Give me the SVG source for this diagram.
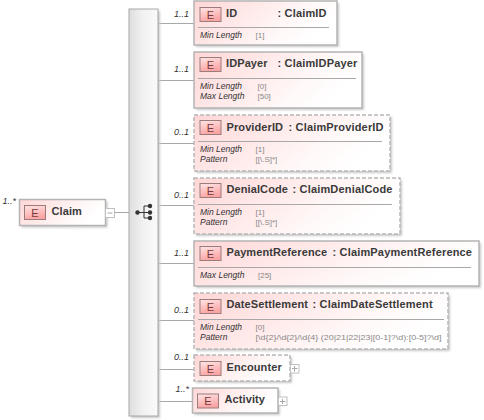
<svg xmlns="http://www.w3.org/2000/svg" width="484" height="420" viewBox="0 0 484 420">
<style>
text{font-family:"Liberation Sans",Arial,sans-serif}
.n{font-size:11px;font-weight:bold;fill:#3a3a3a;letter-spacing:.1px}
.t{font-size:11px;font-weight:bold;fill:#3a3a3a;letter-spacing:.17px}
.e{font-size:11px;fill:#7a3a3a;text-anchor:middle}
.o{font-size:9px;font-style:italic;fill:#333;text-anchor:end}
.k{font-size:8.500px;font-style:italic;fill:#333}
.v{font-size:8px;fill:#888}
.box{fill:url(#bg);stroke:#b4b4b4;stroke-width:1.500}
.opt{fill:url(#bg);stroke:#b8b8b8;stroke-width:1.500;stroke-dasharray:4 2}
.sh{fill:#c8c8c8;filter:url(#soft)}
.bd{fill:url(#eg);stroke:#9a7c7c;stroke-width:1}
.ln{stroke:#a8a8a8;stroke-width:1;fill:none}
.sep{stroke:#a8a8a8;stroke-width:1}
.pm{fill:#fff;stroke:#c0c0c0;stroke-width:1}
</style>
<defs>
<filter id="soft" x="-10%" y="-10%" width="120%" height="120%"><feGaussianBlur stdDeviation="0.800"/></filter>
<linearGradient id="bg" x1="0" y1="0" x2="1" y2="0.350"><stop offset="0" stop-color="#ffd6d6"/><stop offset="0.750" stop-color="#fff8f8"/><stop offset="1" stop-color="#ffffff"/></linearGradient>
<linearGradient id="eg" x1="0" y1="0" x2="0.300" y2="1"><stop offset="0" stop-color="#ffe6e6"/><stop offset="1" stop-color="#fba4a4"/></linearGradient>
<linearGradient id="bar" x1="0" y1="0" x2="1" y2="0"><stop offset="0" stop-color="#dedede"/><stop offset="0.500" stop-color="#f2f2f2"/><stop offset="1" stop-color="#fafafa"/></linearGradient>
</defs>

<g id="connectors">
<path class="ln" d="M115 212.500H129M158 23.500H194M158 80.500H194M158 143.500H194M158 205.500H194M158 263.500H194M158 320.500H194M158 369.500H194M158 401.500H193"/>
</g>

<g id="sequence">
<rect x="131" y="11" width="29" height="407" class="sh"/>
<rect x="129" y="9" width="29" height="407" fill="url(#bar)" stroke="#a8a8a8"/>
<path d="M137 212.500H144M144 206V218M144 206H150M144 212.500H150M144 218H150" fill="none" stroke="#333" stroke-width="1"/>
<circle cx="137.500" cy="212.500" r="2.200" fill="#333"/>
<circle cx="150" cy="206" r="2.200" fill="#333"/>
<circle cx="150" cy="212.500" r="2.200" fill="#333"/>
<circle cx="150" cy="218" r="2.200" fill="#333"/>
</g>

<g id="node-claim">
<rect x="21.500" y="201.500" width="86" height="26" class="sh"/>
<rect x="19.500" y="199.500" width="86" height="26" class="box"/>
<rect x="24.500" y="205.500" width="21" height="14" class="bd"/>
<text x="35" y="217" class="e">E</text>
<text x="51.500" y="215" class="n">Claim</text>
<text x="16" y="204" class="o">1..*</text>
<rect x="105.500" y="208.500" width="9" height="9" class="pm"/>
<path class="ln" d="M107.500 213H112.500"/>
</g>

<g id="node-id">
<rect x="196" y="3" width="143" height="44" class="sh"/>
<rect x="194" y="1" width="143" height="44" class="box"/>
<rect x="200" y="7.500" width="21" height="14" class="bd"/>
<text x="210.500" y="19" class="e">E</text>
<text x="226" y="17" class="n">ID</text>
<text x="277.500" y="17" class="t">: ClaimID</text>
<path class="sep" d="M198 27.500H329"/>
<text x="200" y="38" class="k">Min Length</text><text x="255.500" y="38" class="v">[1]</text>
<text x="189" y="17" class="o">1..1</text>
</g>

<g id="node-idpayer">
<rect x="196" y="54" width="168" height="56" class="sh"/>
<rect x="194" y="52" width="168" height="56" class="box"/>
<rect x="200" y="57.500" width="21" height="14" class="bd"/>
<text x="210.500" y="69" class="e">E</text>
<text x="226" y="67" class="n">IDPayer</text>
<text x="277.500" y="67" class="t">: ClaimIDPayer</text>
<path class="sep" d="M198 78.500H356"/>
<text x="200" y="89" class="k">Min Length</text><text x="257.500" y="89" class="v">[0]</text>
<text x="200" y="99" class="k">Max Length</text><text x="257.500" y="99" class="v">[50]</text>
<text x="189" y="72" class="o">1..1</text>
</g>

<g id="node-providerid">
<rect x="196" y="117" width="196" height="56" class="sh"/>
<rect x="194" y="115" width="196" height="56" class="opt"/>
<rect x="200" y="120.500" width="21" height="14" class="bd"/>
<text x="210.500" y="132" class="e">E</text>
<text x="226.500" y="131" class="n">ProviderID</text>
<text x="288.500" y="131" class="t">: ClaimProviderID</text>
<path class="sep" d="M198 141.500H382"/>
<text x="200" y="152" class="k">Min Length</text><text x="255.500" y="152" class="v">[1]</text>
<text x="200" y="162" class="k">Pattern</text><text x="255.500" y="162" class="v">[[\.S]*]</text>
<text x="189" y="135" class="o">0..1</text>
</g>

<g id="node-denialcode">
<rect x="196" y="180" width="206" height="56" class="sh"/>
<rect x="194" y="178" width="206" height="56" class="opt"/>
<rect x="200" y="183.500" width="21" height="14" class="bd"/>
<text x="210.500" y="195" class="e">E</text>
<text x="226.500" y="193" class="n">DenialCode</text>
<text x="292.500" y="193" class="t">: ClaimDenialCode</text>
<path class="sep" d="M198 204.500H392"/>
<text x="200" y="215" class="k">Min Length</text><text x="255.500" y="215" class="v">[1]</text>
<text x="200" y="225" class="k">Pattern</text><text x="255.500" y="225" class="v">[[\.S]*]</text>
<text x="189" y="198" class="o">0..1</text>
</g>

<g id="node-paymentreference">
<rect x="196" y="243" width="285" height="45" class="sh"/>
<rect x="194" y="241" width="285" height="45" class="box"/>
<rect x="200" y="246.500" width="21" height="14" class="bd"/>
<text x="210.500" y="258" class="e">E</text>
<text x="226.500" y="256" class="n">PaymentReference</text>
<text x="332.500" y="256" class="t">: ClaimPaymentReference</text>
<path class="sep" d="M198 267.500H471"/>
<text x="200" y="278" class="k">Max Length</text><text x="258" y="278" class="v">[25]</text>
<text x="189" y="256" class="o">1..1</text>
</g>

<g id="node-datesettlement">
<rect x="196" y="295" width="254" height="56" class="sh"/>
<rect x="194" y="293" width="254" height="56" class="opt"/>
<rect x="200" y="299.500" width="21" height="14" class="bd"/>
<text x="210.500" y="311" class="e">E</text>
<text x="226.500" y="308" class="n">DateSettlement</text>
<text x="312.500" y="308" class="t">: ClaimDateSettlement</text>
<path class="sep" d="M198 319.500H444"/>
<text x="200" y="330" class="k">Min Length</text><text x="255.500" y="330" class="v">[0]</text>
<text x="200" y="340" class="k">Pattern</text><text x="255.500" y="340" class="v" textLength="186" lengthAdjust="spacingAndGlyphs">[\d{2}/\d{2}/\d{4} (20|21|22|23|[0-1]?\d):[0-5]?\d]</text>
<text x="189" y="313" class="o">0..1</text>
</g>

<g id="node-encounter">
<rect x="196" y="357" width="96" height="26" class="sh"/>
<rect x="194" y="355" width="96" height="26" class="opt"/>
<rect x="200" y="361.500" width="21" height="14" class="bd"/>
<text x="210.500" y="373" class="e">E</text>
<text x="226.500" y="371" class="n">Encounter</text>
<rect x="290.500" y="364.500" width="8.500" height="8.500" class="pm"/>
<path class="ln" d="M292 368.500H297.500M294.500 366V371.500"/>
<text x="189" y="360" class="o">0..1</text>
</g>

<g id="node-activity">
<rect x="194.500" y="390" width="85.500" height="25" class="sh"/>
<rect x="192.500" y="388" width="85.500" height="25" class="box"/>
<rect x="197.500" y="394" width="21" height="14" class="bd"/>
<text x="208" y="405" class="e">E</text>
<text x="224.500" y="403" class="n">Activity</text>
<rect x="278.500" y="397" width="8.500" height="8.500" class="pm"/>
<path class="ln" d="M280 401.500H285.500M282.500 399V404"/>
<text x="189" y="392" class="o">1..*</text>
</g>
</svg>
